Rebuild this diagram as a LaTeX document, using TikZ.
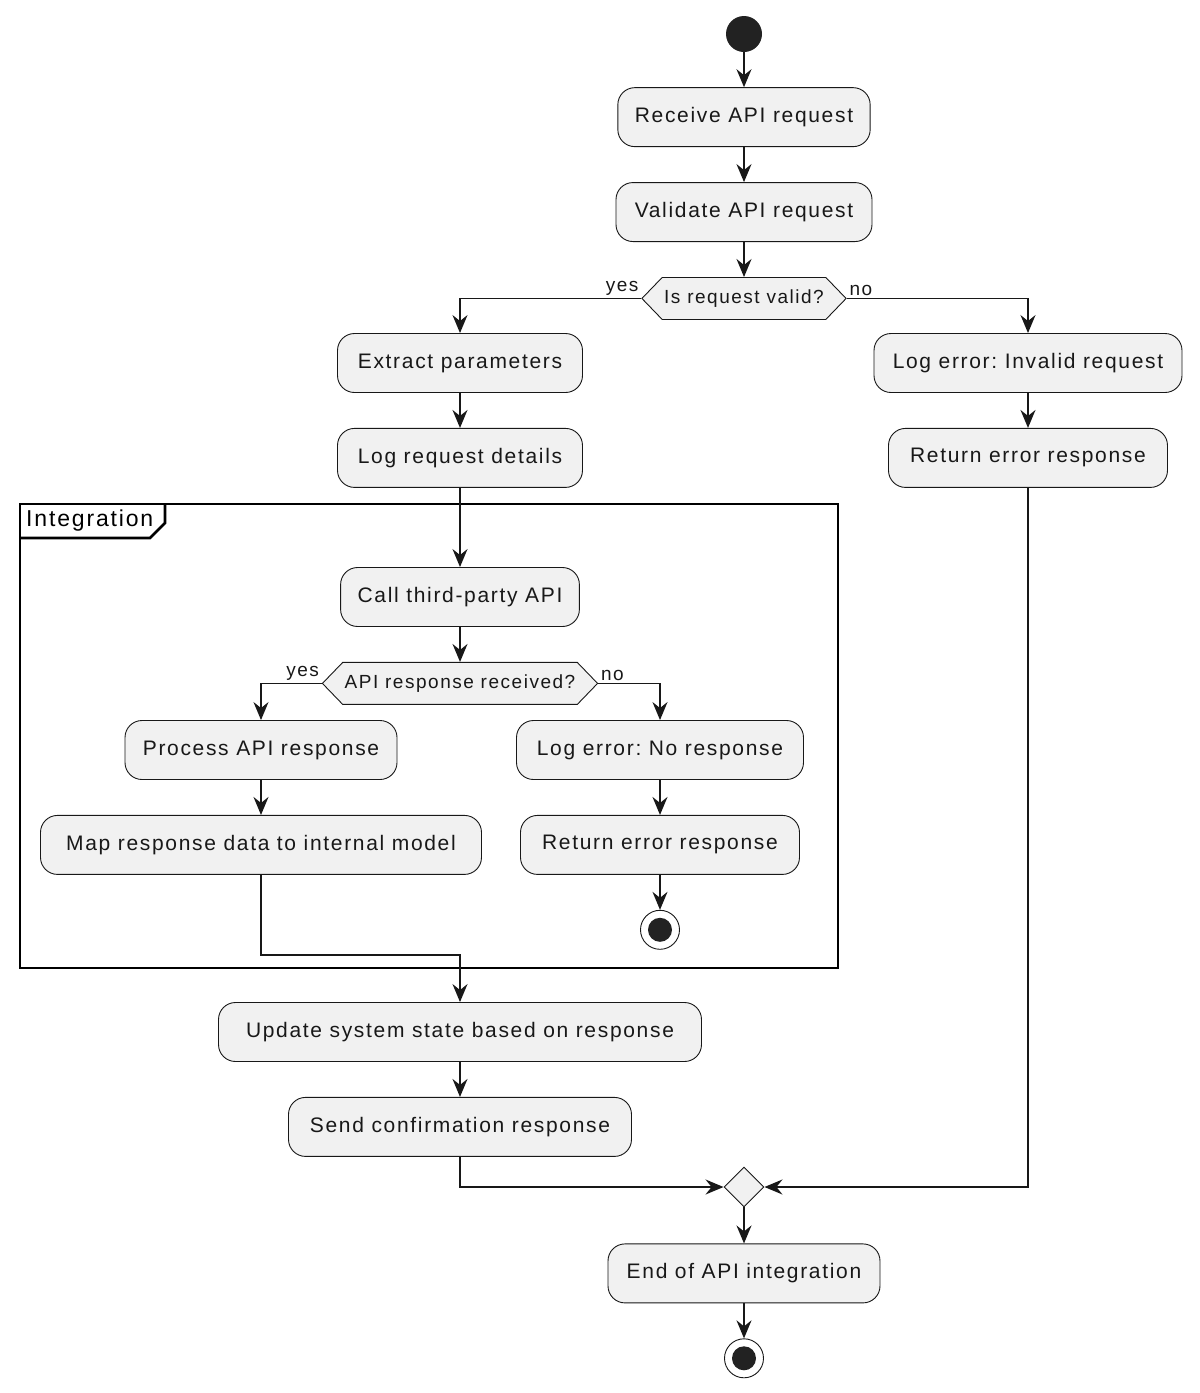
\documentclass[tikz,border=0pt]{standalone}
\usepackage{fontspec}
\setmainfont{Liberation Sans}[LetterSpace=8]
\frenchspacing
\usetikzlibrary{shapes.geometric,shapes.symbols,arrows.meta,positioning}
\definecolor{boxfill}{HTML}{F1F1F1}
\definecolor{ink}{HTML}{181818}
\definecolor{dot}{HTML}{222222}

\begin{document}
\begin{tikzpicture}[x=1pt,y=-1pt,node distance=35pt]
  \tikzstyle{proc} = [draw=ink,fill=boxfill,rectangle,rounded corners=17pt,line width=0.9pt,
    minimum height=59pt,inner xsep=17pt,text=ink,font=\fontsize{21}{25}\selectfont]
  \tikzstyle{dec} = [draw=ink,fill=boxfill,shape=signal,signal to=west and east,signal pointer angle=92,
    line width=0.9pt,minimum height=42pt,inner xsep=2pt,inner ysep=0pt,text=ink,font=\fontsize{19}{22}\selectfont]
  \tikzstyle{mergept} = [draw=ink,fill=boxfill,diamond,line width=0.9pt,minimum size=40pt,inner sep=0pt]
  \tikzstyle{startnode} = [circle,fill=dot,minimum size=36pt,inner sep=0pt]
  \tikzstyle{stopnode} = [circle,draw=ink,fill=white,line width=0.9pt,minimum size=39pt,inner sep=0pt,
    path picture={\fill[dot] (path picture bounding box.center) circle (12pt);}]
  \tikzstyle{arrow} = [ink,line width=1.7pt,-{Stealth[length=18pt,width=15pt,inset=6pt]}]
  \tikzstyle{lbl} = [text=ink,inner sep=2pt,font=\fontsize{19}{22}\selectfont]
  \tikzstyle{grp} = [draw=black,line width=2.6pt]
  \useasboundingbox (0,0) rectangle (1200,1393);

  \node (start) [startnode] at (744,34) {};
  \node (recv) [proc, below=of start, minimum width=250pt] {Receive API request};
  \node (valid) [proc, below=of recv, minimum width=256pt] {Validate API request};
  \node (chk) [dec, below=of valid] {Is request valid?};
  \node (extract) [proc, minimum width=245pt] at (460,363) {Extract parameters};
  \node (logreq) [proc, below=of extract, minimum width=245pt] {Log request details};
  \node (logerr) [proc, minimum width=308pt] at (1028,363) {Log error: Invalid request};
  \node (reterr) [proc, below=of logerr, minimum width=279pt] {Return error response};

  \draw [grp] (20,504) rectangle (838,968);
  \draw [grp] (20,538) -- (150,538) -- (165,523) -- (165,504);
  \node (grplbl) [anchor=west,inner sep=0pt,text=black,font=\fontsize{23}{27}\selectfont] at (26,521) {Integration};

  \node (call) [proc, minimum width=233pt] at (460,597) {Call third-party API};
  \node (chkresp) [dec, below=of call] {API response received?};
  \node (procresp) [proc, minimum width=272pt] at (261,750) {Process API response};
  \node (mapresp) [proc, below=of procresp, minimum width=441pt] {Map response data to internal model};
  \node (noresp) [proc, minimum width=287pt] at (660,750) {Log error: No response};
  \node (reterr2) [proc, below=of noresp, minimum width=279pt] {Return error response};
  \node (stop1) [stopnode, below=of reterr2] {};

  \node (update) [proc, minimum width=483pt] at (460,1032) {Update system state based on response};
  \node (send) [proc, below=of update, minimum width=343pt] {Send confirmation response};
  \node (merge) [mergept] at (744,1187) {};
  \node (finish) [proc, below=36pt of merge, minimum width=272pt] {End of API integration};
  \node (stop2) [stopnode, below=of finish] {};
  \coordinate (jmap) at (261,955);

  \draw [arrow] (start) -- (recv);
  \draw [arrow] (recv) -- (valid);
  \draw [arrow] (valid) -- (chk);
  \draw [arrow] (chk.west) node[lbl, above left] {yes} -| (extract);
  \draw [arrow] (chk.east) node[lbl, above right] {no} -| (logerr);
  \draw [arrow] (extract) -- (logreq);
  \draw [arrow] (logerr) -- (reterr);
  \draw [arrow] (logreq) -- (call);
  \draw [arrow] (call) -- (chkresp);
  \draw [arrow] (chkresp.west) node[lbl, above left] {yes} -| (procresp);
  \draw [arrow] (chkresp.east) node[lbl, above right] {no} -| (noresp);
  \draw [arrow] (procresp) -- (mapresp);
  \draw [arrow] (noresp) -- (reterr2);
  \draw [arrow] (reterr2) -- (stop1);
  \draw [arrow] (mapresp.south) -- (jmap) -| (update);
  \draw [arrow] (update) -- (send);
  \draw [arrow] (send) |- (merge);
  \draw [arrow] (reterr) |- (merge);
  \draw [arrow] (merge) -- (finish);
  \draw [arrow] (finish) -- (stop2);
\end{tikzpicture}
\end{document}
